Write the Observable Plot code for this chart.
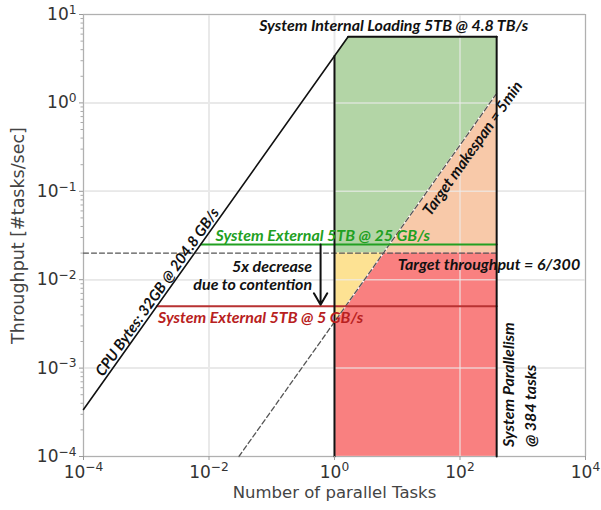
<!DOCTYPE html>
<html><head><meta charset="utf-8">
<script src="https://cdn.jsdelivr.net/npm/d3@7"></script>
<script src="https://cdn.jsdelivr.net/npm/@observablehq/plot@0.6"></script>
<style>body{margin:0;background:#fff}</style>
</head><body><div id="chart"></div>
<script>
// ---- tick values ----
const xTicks = [1e-4, 1e-2, 1, 1e2, 1e4];
const yTicks = [1e-4, 1e-3, 1e-2, 1e-1, 1, 10];
const yMinor = [2,3,4,5,6,7,8,9].flatMap(m => [1e-4,1e-3,1e-2,1e-1,1].map(d => m*d));

// ---- lines (tasks, throughput) ----
const cpuLine      = [{tasks:1e-4, rate:3.4e-4}, {tasks:1.65, rate:5.6}];
const internalLine = [{tasks:1.65, rate:5.6}, {tasks:384, rate:5.6}];
const leftWall     = [{tasks:1, rate:1e-4}, {tasks:1, rate:3.4}];
const rightWall    = [{tasks:384, rate:1e-4}, {tasks:384, rate:5.6}];
const makespanLine = [{tasks:0.03, rate:1e-4}, {tasks:384, rate:1.28}];
const targetLine   = [{tasks:1e-4, rate:0.02}, {tasks:384, rate:0.02}];
const fastLine     = [{tasks:0.0074, rate:0.025}, {tasks:384, rate:0.025}];
const slowLine     = [{tasks:0.00147, rate:0.005}, {tasks:384, rate:0.005}];
const arrowData    = [{tasks:0.6, from:0.025, to:0.0052}];

// ---- shaded zones ----
const greenZone  = [{tasks:1, lo:0.02, hi:3.4}, {tasks:1.65, lo:0.02, hi:5.6}, {tasks:6, lo:0.02, hi:5.6}, {tasks:384, lo:1.28, hi:5.6}];
const orangeZone = [{tasks:6, lo:0.02, hi:0.02}, {tasks:384, lo:0.02, hi:1.28}];
const yellowZone = [{tasks:1, lo:0.00333, hi:0.02}, {tasks:6, lo:0.02, hi:0.02}];
const redZone    = [{tasks:1, lo:1e-4, hi:0.00333}, {tasks:6, lo:1e-4, hi:0.02}, {tasks:384, lo:1e-4, hi:0.02}];

// ---- annotation labels ----
const internalLabel = [{tasks:8.8, rate:5.6, text:"System Internal Loading 5TB @ 4.8 TB/s"}];
const fastLabel     = [{tasks:0.65, rate:0.025, text:"System External 5TB @ 25 GB/s"}];
const slowLabel     = [{tasks:0.0665, rate:0.005, text:"System External 5TB @ 5 GB/s"}];
const targetLabel   = [{tasks:10.2, rate:0.02, text:"Target throughput = 6/300"}];
const contentionLabel = [{tasks:0.44, rate:0.0112, text:"5x decrease\ndue to contention"}];
const cpuLabel      = [{tasks:0.00151, rate:0.00723, text:"CPU Bytes: 32GB @ 204.8 GB/s"}];
const makespanLabel = [{tasks:160, rate:0.306, text:"Target makespan = 5min"}];
const parallelLabel = [{tasks:603, rate:1.28e-4, text:"System Parallelism"}, {tasks:1349, rate:1.28e-4, text:"@ 384 tasks"}];

const annot = {x:"tasks", y:"rate", text:"text", fontFamily:"Lato", fontWeight:"bold", fontStyle:"italic", fontSize:16};
const fmt = d => "10^" + Math.round(Math.log10(d));

const plot = Plot.plot({
  width: 601, height: 510,
  marginLeft: 83, marginRight: 16, marginTop: 14, marginBottom: 54,
  x: {type: "log", domain: [1e-4, 1e4]},
  y: {type: "log", domain: [1e-4, 10]},
  style: {fontFamily: "DejaVu Sans", background: "white", color: "#333"},
  marks: [
    Plot.ruleX(xTicks, {stroke: "#dcdcdc", strokeWidth: 1.5}),
    Plot.ruleY(yTicks, {stroke: "#dcdcdc", strokeWidth: 1.5}),
    Plot.areaY(greenZone,  {x:"tasks", y1:"lo", y2:"hi", fill:"#b3d5a6"}),
    Plot.areaY(orangeZone, {x:"tasks", y1:"lo", y2:"hi", fill:"#f8c9a9"}),
    Plot.areaY(yellowZone, {x:"tasks", y1:"lo", y2:"hi", fill:"#fde293"}),
    Plot.areaY(redZone,    {x:"tasks", y1:"lo", y2:"hi", fill:"#f98080"}),
    Plot.ruleX(xTicks, {stroke: "#ececec", strokeOpacity: 0.7, strokeWidth: 1.5}),
    Plot.ruleY(yTicks, {stroke: "#ececec", strokeOpacity: 0.7, strokeWidth: 1.5}),
    Plot.frame({stroke: "#b0b0b0"}),
    Plot.line(makespanLine, {x:"tasks", y:"rate", stroke:"white", strokeWidth:1.4}),
    Plot.line(makespanLine, {x:"tasks", y:"rate", stroke:"#555", strokeWidth:1.3, strokeDasharray:"5,3"}),
    Plot.line(targetLine, {x:"tasks", y:"rate", stroke:"#555", strokeWidth:1.3, strokeDasharray:"5,3"}),
    Plot.line(fastLine, {x:"tasks", y:"rate", stroke:"#22a022", strokeWidth:2}),
    Plot.line(slowLine, {x:"tasks", y:"rate", stroke:"#b83232", strokeWidth:2}),
    Plot.line(cpuLine, {x:"tasks", y:"rate", stroke:"#111", strokeWidth:1.6}),
    Plot.line(internalLine, {x:"tasks", y:"rate", stroke:"#111", strokeWidth:2}),
    Plot.line(leftWall, {x:"tasks", y:"rate", stroke:"#111", strokeWidth:2}),
    Plot.line(rightWall, {x:"tasks", y:"rate", stroke:"#111", strokeWidth:2}),
    Plot.arrow(arrowData, {x1:"tasks", x2:"tasks", y1:"from", y2:"to", stroke:"#111", strokeWidth:2, headLength:10}),
    Plot.text(internalLabel, {...annot, fill:"#111", dy:-11}),
    Plot.text(fastLabel, {...annot, fill:"#22a022", dy:-9}),
    Plot.text(slowLabel, {...annot, fill:"#b82020", dy:12}),
    Plot.text(targetLabel, {...annot, fill:"#111", textAnchor:"start", dy:12}),
    Plot.text(contentionLabel, {...annot, fill:"#111", textAnchor:"end", lineHeight:1.15}),
    Plot.text(cpuLabel, {...annot, fontSize:15, fill:"#111", rotate:-54.7}),
    Plot.text(makespanLabel, {...annot, fontSize:15.5, fill:"#111", rotate:-54.7}),
    Plot.text(parallelLabel, {...annot, fill:"#111", rotate:-90, textAnchor:"start"}),
    Plot.axisX({ticks: xTicks, tickFormat: fmt, tickSize: 4, fontSize: 17, label: null, stroke:"#999", tickPadding: 5}),
    Plot.axisY({ticks: yTicks, tickFormat: fmt, tickSize: 4, fontSize: 17, label: null, stroke:"#999", tickPadding: 3}),
    Plot.axisY({ticks: yMinor, tickSize: 2.5, tickFormat: () => "", label: null, stroke:"#aaa"}),
    Plot.text(["Number of parallel Tasks"], {frameAnchor:"bottom", dy:41, fontSize:16.5, fill:"#444", fontFamily:"DejaVu Sans"}),
    Plot.text(["Throughput [#tasks/sec]"], {frameAnchor:"left", dx:-65, rotate:-90, textAnchor:"middle", fontSize:17.5, fill:"#444", fontFamily:"DejaVu Sans"})
  ]
});

d3.select(plot).selectAll('g[aria-label="x-axis tick label"] text, g[aria-label="y-axis tick label"] text').each(function() {
  const m = (this.textContent || "").match(/^10\^(.*)$/);
  if (!m) return;
  const el = d3.select(this);
  el.text(null);
  el.append("tspan").text("10");
  el.append("tspan").attr("dy", "-0.5em").attr("font-size", "72%").text(m[1].replace("-", "\u2212"));
});
document.getElementById("chart").appendChild(plot);
</script>
</body></html>
